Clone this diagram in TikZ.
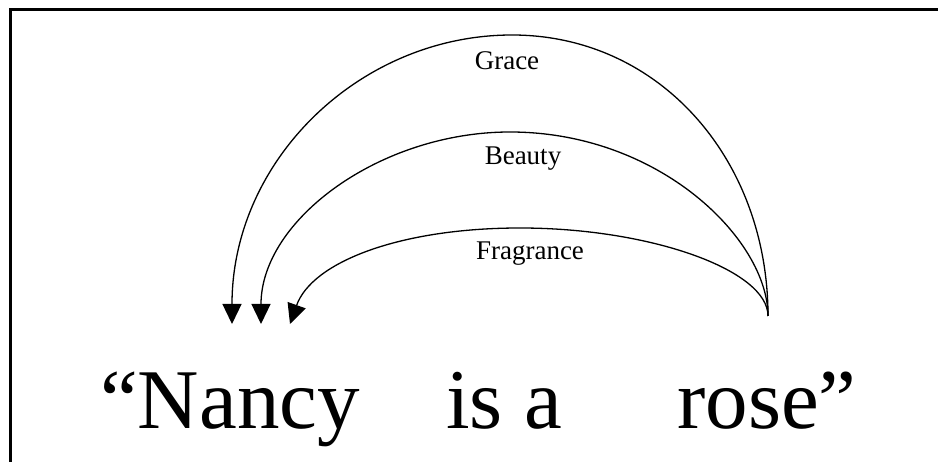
\documentclass[tikz,border=0pt]{standalone}
\usepackage{fontspec}
\setmainfont{Liberation Serif}
\usetikzlibrary{arrows.meta}
\tikzset{
  frameline/.style={line width=3pt, black},
  relarrow/.style={line width=1.3pt, black, -{Triangle[length=20pt,width=19pt]}},
  relabel/.style={anchor=base, inner sep=0pt, font=\fontsize{27}{30}\selectfont},
  word/.style={anchor=base west, inner sep=0pt, font=\fontsize{85}{95}\selectfont}
}
\begin{document}
\begin{tikzpicture}[x=1pt,y=-1pt]
\useasboundingbox (0,0) rectangle (938,462);
\fill[white] (0,0) rectangle (938,462);
% frame (top and left edges)
\draw[frameline] (10.5,462) -- (10.5,9.5) -- (938,9.5);

% sentence
\node[word] (nancy) at (100,429) {“Nancy};
\node[word] (isa) at (446,429) {is a};
\node[word] (rose) at (677,429) {rose”};

% anchors of the arcs
\coordinate (src) at (768,316);
\coordinate (tG) at (232,324);
\coordinate (tB) at (261,324);
\coordinate (tF) at (290,324);
\coordinate (pG) at (512,35);
\coordinate (pB) at (510,132);
\coordinate (pF) at (520,228);

% arcs
\draw[relarrow] (src) .. controls (768,160) and (660,35) .. (pG)
                      .. controls (360,35) and (232,160) .. (tG);
\draw[relarrow] (src) .. controls (768,240) and (660,132) .. (pB)
                      .. controls (380,132) and (261,220) .. (tB);
\draw[relarrow] (src) .. controls (768,270) and (650,228) .. (pF)
                      .. controls (400,228) and (312,262) .. (tF);

% labels
\node[relabel] (grace) at (507,70) {Grace};
\node[relabel] (beauty) at (523,165) {Beauty};
\node[relabel] (fragrance) at (530,260) {Fragrance};
\end{tikzpicture}
\end{document}
